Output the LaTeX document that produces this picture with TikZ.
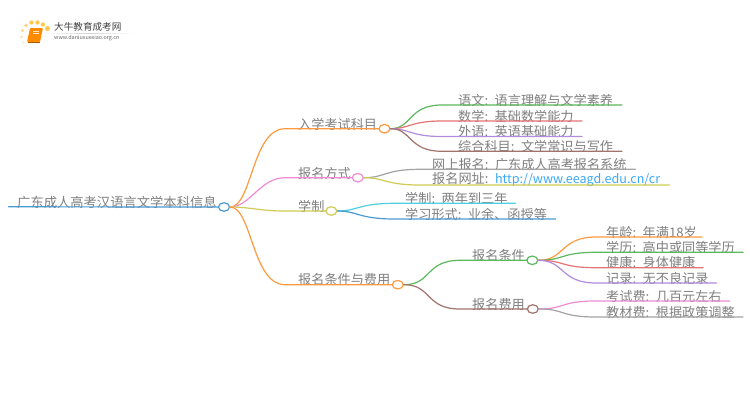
\documentclass[tikz,border=0pt]{standalone}
\usepackage{fontspec}
\setmainfont{Noto Sans CJK SC}[BoldFont={Noto Sans CJK SC},WordSpace=0.4]
\usetikzlibrary{shapes.geometric,calc}
\definecolor{txt}{HTML}{808080}
\definecolor{cOrange}{HTML}{FF9A40}
\definecolor{cGreen}{HTML}{5CB85C}
\definecolor{cRed}{HTML}{E57373}
\definecolor{cPurple}{HTML}{B28BDC}
\definecolor{cBrown}{HTML}{A1736C}
\definecolor{cPink}{HTML}{EE8CD4}
\definecolor{cGray}{HTML}{A3A3A3}
\definecolor{cOlive}{HTML}{CFCB55}
\definecolor{cCyan}{HTML}{4FCFE3}
\definecolor{cBlue}{HTML}{4A9AD2}
\definecolor{cLink}{HTML}{3DA9F5}
\tikzset{
  lab/.style={inner xsep=0pt,inner ysep=-1.6pt,anchor=south west,align=left,text=txt,font=\fontsize{13.15}{14}\selectfont},
  hub/.style={ellipse,draw=#1,fill=white,line width=1.2pt,minimum width=11pt,minimum height=8.5pt,inner sep=0pt},
  wire/.style={draw=#1,line width=1.2pt,line cap=round},
  sundot/.style={circle,fill=#1,inner sep=0pt}
}
% \labnode name x y endx text
\newcommand{\labnode}[5]{\pgfmathsetmacro{\labw}{#4-#2}\node[lab,text width=\labw pt] (#1) at (#2,#3) {#5};}
% \linkup from to colour x1 x2 x3
\newcommand{\linkup}[6]{\draw[wire=#3] (#1.east) .. controls (#4,0 |- #1.east) and (#5,0 |- #2.south west) .. (#6,0 |- #2.south west) -- (#2.south west) -- (#2.south east);}
\begin{document}
\begin{tikzpicture}[x=1pt,y=-1pt]
\useasboundingbox[fill=white] (0,0) rectangle (750,410);
% logo
\foreach \dn/\dx/\dy/\dr/\dc in {a/37.5/22.5/4.4/FFC84A,b/31.5/22.5/4.2/FFC84A,c/43/24.5/4.2/FFC84A,d/47.5/28.5/5/FFC84A,e/26/25.5/3.6/FFD27A,f/22.5/30.5/3/FFD27A,g/21.5/37/2.6/FFE0A0,h/23.5/42.5/2.4/FFE6B5}
  {\definecolor{dotc}{HTML}{\dc}\node[sundot=dotc,minimum size=\dr pt] (dot\dn) at (\dx,\dy) {};}
\fill[orange!90!yellow,rounded corners=1pt] (30,28) -- (43,28) -- (40,42) -- (27,42) -- cycle;
\draw[white!80!orange,line width=.5pt] (33,31.5) -- (39,31.5) (32.5,33.5) -- (38.5,33.5);
\draw[orange!70!black,line width=.5pt] (27.5,42) -- (40,42);
\shade[left color=white,right color=white,middle color=black!18] (45,33) rectangle (133,33.5);
\node[anchor=west,inner sep=0pt,text=black!75,font=\fontsize{9.6}{12}\selectfont] (brand) at (54,27) {大牛教育成考网};
\node[anchor=west,inner sep=0pt,text=black!60,font=\fontsize{5.4}{6}\selectfont] (site) at (54,38.5) {www.daniuxuexiao.org.cn};
% hubs
\node[hub=cBlue] (root) at (224,207) {};
\node[hub=cOrange] (h1) at (384.5,128.7) {};
\node[hub=cPink] (h2) at (357.8,177.7) {};
\node[hub=cOlive] (h3) at (331.3,211) {};
\node[hub=cOrange] (h4) at (397.8,284.7) {};
\node[hub=cGreen] (h5) at (532.3,260.3) {};
\node[hub=cBrown] (h6) at (532.8,309) {};
% labels
\labnode{rootlab}{17}{206.8}{218.5}{\fontsize{13.3}{14}\selectfont 广东成人高考汉语言文学本科信息}
\labnode{b1}{298}{128.7}{379}{入学考试科目}
\labnode{b2}{298}{177.7}{352.3}{报名方式}
\labnode{b3}{298}{211}{325.8}{学制}
\labnode{b4}{298}{284.7}{392.3}{报名条件与费用}
\labnode{l1}{458}{105}{621.5}{语文: 语言理解与文学素养}
\labnode{l2}{458}{121}{581.5}{数学: 基础数学能力}
\labnode{l3}{458}{136.5}{581.5}{外语: 英语基础能力}
\labnode{l4}{458}{151.3}{621.5}{综合科目: 文学常识与写作}
\labnode{l5}{432}{169.3}{635}{网上报名: 广东成人高考报名系统}
\labnode{l6}{432}{185}{669}{报名网址: {\color{cLink}\fontsize{12.55}{14}\selectfont http://www.eeagd.edu.cn/cr}}
\labnode{l7}{405}{203.3}{515}{学制: 两年到三年}
\labnode{l8}{405}{219}{555}{学习形式: 业余、函授等}
\labnode{m1}{472}{260.3}{526.8}{报名条件}
\labnode{m2}{472}{309}{527.3}{报名费用}
\labnode{n1}{606}{237}{701.7}{年龄: 年满18岁}
\labnode{n2}{606}{252.3}{742.7}{学历: 高中或同等学历}
\labnode{n3}{606}{267.7}{702.7}{健康: 身体健康}
\labnode{n4}{606}{283}{716}{记录: 无不良记录}
\labnode{n5}{606}{301}{729}{考试费: 几百元左右}
\labnode{n6}{606}{317}{742.7}{教材费: 根据政策调整}
% connectors
\draw[wire=cBlue] (rootlab.south west) ++(-8.5,0) -- (root.west);
\linkup{root}{b1}{cOrange}{252}{252}{285}
\linkup{root}{b2}{cPink}{250}{260}{285}
\linkup{root}{b3}{cOlive}{250}{260}{285}
\linkup{root}{b4}{cOrange}{252}{252}{285}
\linkup{h1}{l1}{cGreen}{412}{408}{442}
\linkup{h1}{l2}{cRed}{410}{410}{442}
\linkup{h1}{l3}{cPurple}{410}{410}{442}
\linkup{h1}{l4}{cBrown}{412}{408}{442}
\linkup{h2}{l5}{cGray}{385}{385}{420}
\linkup{h2}{l6}{cOlive}{385}{385}{420}
\linkup{h3}{l7}{cCyan}{358}{358}{395}
\linkup{h3}{l8}{cBlue}{358}{358}{395}
\linkup{h4}{m1}{cGreen}{432}{425}{460}
\linkup{h4}{m2}{cBrown}{432}{425}{460}
\linkup{h5}{n1}{cOrange}{565}{560}{596}
\linkup{h5}{n2}{cGreen}{565}{560}{596}
\linkup{h5}{n3}{cRed}{565}{560}{596}
\linkup{h5}{n4}{cPurple}{565}{560}{596}
\linkup{h6}{n5}{cPink}{565}{560}{596}
\linkup{h6}{n6}{cGray}{565}{560}{596}
\end{tikzpicture}
\end{document}
